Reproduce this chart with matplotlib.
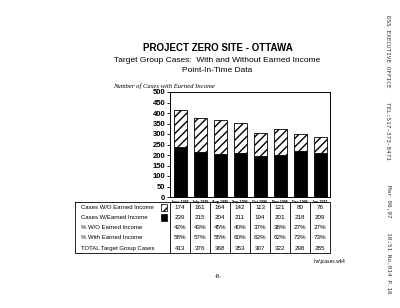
import numpy as np
import matplotlib.pyplot as plt
from matplotlib.patches import Rectangle

# ==========================================================
# Data
# ==========================================================

months = ["June 1996", "July 1996", "Aug 1996", "Sep 1996",
          "Oct 1996", "Nov 1996", "Dec 1996", "Jan 1997"]

without_earned = [174, 161, 164, 142, 113, 121, 80, 76]
with_earned = [239, 215, 204, 211, 194, 201, 218, 209]
pct_without = ["42%", "43%", "45%", "40%", "37%", "38%", "27%", "27%"]
pct_with = ["58%", "57%", "55%", "60%", "63%", "62%", "73%", "73%"]
totals = [413, 376, 368, 353, 307, 322, 298, 285]

row_labels = ["Cases W/O Earned Income", "Cases W/Earned Income",
              "% W/O Earned Income", "% With Earned Income",
              "TOTAL Target Group Cases"]

y_ticks = [0, 50, 100, 150, 200, 250, 300, 350, 400, 450, 500]

plt.rcParams["font.family"] = ["Liberation Sans", "DejaVu Sans"]

fig = plt.figure(figsize=(4.0, 3.08), dpi=100)
ax = fig.add_axes([170 / 400, 1 - 197 / 308, 160 / 400, 105 / 308])

x = np.arange(len(months))

ax.bar(x, with_earned, width=0.65, color="black", edgecolor="black",
       linewidth=0.6)
ax.bar(x, without_earned, width=0.65, bottom=with_earned,
       color="white", edgecolor="black", hatch="////", linewidth=0.6)

ax.set_xlim(-0.5, len(months) - 0.5)
ax.set_ylim(0, 500)
ax.set_yticks(y_ticks)
ax.set_yticklabels([str(v) for v in y_ticks], fontsize=5.5,
                   fontweight="bold")
ax.set_xticks(x)
ax.set_xticklabels(months, fontsize=2.6, fontweight="bold")
ax.tick_params(axis="y", length=2.5, width=0.6, pad=1)
ax.tick_params(axis="x", length=0, pad=2)
for s in ax.spines.values():
    s.set_linewidth(0.7)

# ==========================================================
# Titles
# ==========================================================

fig.text(218 / 400, 1 - 48 / 308, "PROJECT ZERO SITE - OTTAWA",
         ha="center", va="center", fontsize=7, fontweight="bold")
fig.text(217 / 400, 1 - 60 / 308,
         "Target Group Cases:  With and Without Earned Income",
         ha="center", va="center", fontsize=6)
fig.text(217 / 400, 1 - 70 / 308, "Point-In-Time Data",
         ha="center", va="center", fontsize=6)
fig.text(113 / 400, 1 - 86 / 308, "Number of Cases with Earned Income",
         ha="left", va="center", fontsize=4.8, style="italic",
         family="Liberation Serif")

# ==========================================================
# Data table under the chart
# ==========================================================

trans = ax.get_xaxis_transform()
table_rows = [
    [str(v) for v in without_earned],
    [str(v) for v in with_earned],
    pct_without,
    pct_with,
    [str(v) for v in totals],
]

top = -0.05
row_h = 0.097
bottom = top - row_h * len(table_rows)
left = -0.594

ax.plot([left, 1, 1, left, left], [top, top, bottom, bottom, top],
        transform=ax.transAxes, color="black", lw=0.6, clip_on=False)
for i in range(len(months)):
    ax.plot([i - 0.5, i - 0.5], [top, bottom], transform=trans,
            color="black", lw=0.6, clip_on=False)

for r, (label, vals) in enumerate(zip(row_labels, table_rows)):
    yc = top - row_h * (r + 0.5)
    ax.text(left + 0.04, yc, label, transform=ax.transAxes,
            ha="left", va="center", fontsize=4.3)
    for i, v in enumerate(vals):
        ax.text(i, yc, v, transform=trans, ha="center", va="center",
                fontsize=4.5)

# legend swatches in the label column
ax.add_patch(Rectangle((-0.055, top - row_h * 0.85), 0.035, row_h * 0.7,
                       transform=ax.transAxes, facecolor="white",
                       edgecolor="black", hatch="////", lw=0.5,
                       clip_on=False))
ax.add_patch(Rectangle((-0.055, top - row_h * 1.85), 0.035, row_h * 0.7,
                       transform=ax.transAxes, facecolor="black",
                       edgecolor="black", lw=0.5, clip_on=False))

# ==========================================================
# Fax header and footer
# ==========================================================

fig.text(388 / 400, 1 - 15 / 308,
         "DSS EXECUTIVE OFFICE    TEL:517-373-8471",
         rotation=-90, ha="center", va="top", fontsize=4.3,
         family="DejaVu Sans Mono", color="#333333")
fig.text(388 / 400, 1 - 185 / 308,
         "Mar 06,97    10:51 No.014 P.16",
         rotation=-90, ha="center", va="top", fontsize=4.3,
         family="DejaVu Sans Mono", color="#333333")
fig.text(330 / 400, 1 - 262 / 308, "lrw\\jcases.wk4",
         ha="center", va="center", fontsize=3.5)
fig.text(218 / 400, 1 - 276 / 308, "-8-",
         ha="center", va="center", fontsize=4)

fig.savefig("out.png", dpi=100)
